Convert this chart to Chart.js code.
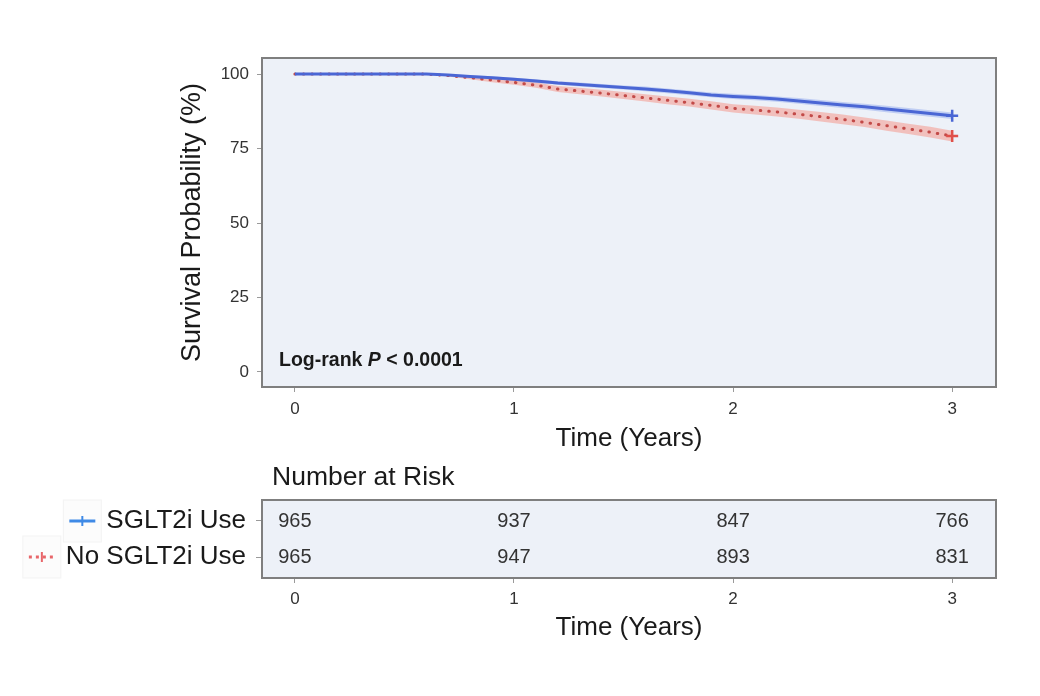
<!DOCTYPE html>
<html>
<head>
<meta charset="utf-8">
<script src="https://cdn.jsdelivr.net/npm/chart.js@4.4.1/dist/chart.umd.min.js"></script>
<style>
  html, body { margin: 0; padding: 0; background: #fff; }
  #wrap { position: relative; width: 1040px; height: 696px; }
  #kmChart { position: absolute; left: 0; top: 0; }
  #riskChart { position: absolute; left: 0; top: 460px; }
</style>
</head>
<body>
<div id="wrap">
  <canvas id="kmChart" width="1040" height="460"></canvas>
  <canvas id="riskChart" width="1040" height="236"></canvas>
</div>
<script>
// Tider (år) og overlevelse
const times = [0, 0.1, 0.2, 0.3, 0.4, 0.5, 0.6, 0.7, 0.8, 0.9, 1.0,
  1.1, 1.2, 1.3, 1.4, 1.5, 1.6, 1.7, 1.8, 1.9, 2.0,
  2.1, 2.2, 2.3, 2.4, 2.5, 2.6, 2.7, 2.8, 2.9, 3.0];

const sgltSurv = [100, 100, 100, 100, 100, 100, 100, 99.7, 99.2, 98.8, 98.3,
  97.7, 97.0, 96.5, 96.0, 95.5, 95.0, 94.4, 93.7, 93.0, 92.5,
  92.1, 91.6, 91.0, 90.3, 89.6, 89.0, 88.3, 87.5, 86.8, 86.0];
const sgltLo = [100, 100, 100, 100, 100, 100, 100, 99.4, 98.8, 98.3, 97.8,
  97.1, 96.4, 95.8, 95.3, 94.8, 94.2, 93.6, 92.9, 92.2, 91.6,
  91.2, 90.7, 90.0, 89.3, 88.6, 88.0, 87.2, 86.4, 85.7, 84.9];
const sgltHi = [100, 100, 100, 100, 100, 100, 100, 100, 99.6, 99.3, 98.8,
  98.3, 97.6, 97.2, 96.7, 96.2, 95.8, 95.2, 94.5, 93.8, 93.4,
  93.0, 92.5, 92.0, 91.3, 90.6, 90.0, 89.4, 88.6, 87.9, 87.1];

const noSurv = [100, 100, 100, 100, 100, 100, 100, 99.5, 98.8, 98.0, 97.2,
  96.3, 95.0, 94.3, 93.6, 92.8, 92.0, 91.2, 90.4, 89.5, 88.5,
  87.9, 87.3, 86.5, 85.7, 84.8, 83.8, 82.7, 81.6, 80.5, 79.2];
const noLo = [100, 100, 100, 100, 100, 100, 100, 99.2, 98.3, 97.3, 96.4,
  95.4, 94.0, 93.2, 92.5, 91.6, 90.8, 89.9, 89.1, 88.1, 87.1,
  86.4, 85.8, 85.0, 84.1, 83.2, 82.2, 81.0, 79.9, 78.7, 77.4];
const noHi = [100, 100, 100, 100, 100, 100, 100, 99.8, 99.3, 98.7, 98.0,
  97.2, 96.0, 95.4, 94.7, 94.0, 93.2, 92.5, 91.7, 90.9, 89.9,
  89.4, 88.8, 88.0, 87.3, 86.4, 85.4, 84.4, 83.3, 82.3, 81.0];

const xTicks = [0, 1, 2, 3];
const yTicks = [0, 25, 50, 75, 100];

// Number at risk
const groups = ['SGLT2i Use', 'No SGLT2i Use'];
const riskTimes = [0, 1, 2, 3];
const riskSglt = [965, 937, 847, 766];
const riskNo = [965, 947, 893, 831];

const FONT = "'Liberation Sans', Arial, sans-serif";
const BLUE = '#4a66d4';
const RED = '#c24a48';

function pts(ys) {
  return times.map((t, i) => ({ x: t, y: ys[i] }));
}
function lastOnly(r) {
  return (ctx) => ctx.dataIndex === times.length - 1 ? r : 0;
}

// Baggrund og ramme om plotområdet
const panelBox = {
  id: 'panelBox',
  beforeDraw(chart) {
    const { ctx, chartArea: a } = chart;
    ctx.save();
    ctx.fillStyle = '#edf1f8';
    ctx.fillRect(a.left, a.top, a.right - a.left, a.bottom - a.top);
    ctx.restore();
  },
  afterDraw(chart) {
    const { ctx, chartArea: a } = chart;
    ctx.save();
    ctx.strokeStyle = '#7f7f7f';
    ctx.lineWidth = 2;
    ctx.strokeRect(a.left, a.top, a.right - a.left, a.bottom - a.top);
    ctx.restore();
  }
};

const logRank = {
  id: 'logRank',
  afterDraw(chart) {
    const { ctx, chartArea: a } = chart;
    ctx.save();
    ctx.fillStyle = '#1a1a1a';
    ctx.textBaseline = 'middle';
    let x = a.left + 17;
    const y = a.bottom - 26;
    const parts = [['bold', 'Log-rank '], ['italic bold', 'P'], ['bold', ' < 0.0001']];
    parts.forEach(([w, s]) => {
      ctx.font = w + ' 19.5px ' + FONT;
      ctx.fillText(s, x, y);
      x += ctx.measureText(s).width;
    });
    ctx.restore();
  }
};

function fixedTicks(list) {
  return (scale) => { scale.ticks = list.map(v => ({ value: v })); };
}

new Chart(document.getElementById('kmChart'), {
  type: 'line',
  data: {
    datasets: [
      { data: pts(sgltSurv), borderColor: BLUE, borderWidth: 3, fill: false, tension: 0,
        pointStyle: 'cross', pointRadius: lastOnly(6), pointBorderColor: BLUE, pointBorderWidth: 2.5, order: 0 },
      { data: pts(noSurv), borderColor: RED, borderWidth: 3, borderDash: [0.5, 8], borderCapStyle: 'round',
        fill: false, tension: 0,
        pointStyle: 'cross', pointRadius: lastOnly(6), pointBorderColor: '#e0504a', pointBorderWidth: 2.5, order: 1 },
      { data: pts(sgltHi), borderWidth: 0, pointRadius: 0,
        fill: '+1', backgroundColor: 'rgba(110,140,235,0.35)', order: 5 },
      { data: pts(sgltLo), borderWidth: 0, pointRadius: 0, fill: false, order: 6 },
      { data: pts(noHi), borderWidth: 0, pointRadius: 0,
        fill: '+1', backgroundColor: 'rgba(244,160,150,0.6)', order: 7 },
      { data: pts(noLo), borderWidth: 0, pointRadius: 0, fill: false, order: 8 }
    ]
  },
  options: {
    responsive: false,
    animation: false,
    layout: { padding: { left: 166, top: 58, right: 44, bottom: 0 } },
    plugins: { legend: { display: false }, tooltip: { enabled: false } },
    scales: {
      x: {
        type: 'linear', min: -0.15, max: 3.2,
        afterBuildTicks: fixedTicks(xTicks),
        afterFit(s) { s.height = 73; },
        grid: { drawOnChartArea: false, drawTicks: true, tickLength: 5, color: '#9a9a9a' },
        border: { display: false },
        ticks: { padding: 7, color: '#333', font: { family: FONT, size: 17 } },
        title: { display: true, text: 'Time (Years)', color: '#1a1a1a',
          font: { family: FONT, size: 26 }, padding: { top: 0, bottom: 6 } }
      },
      y: {
        type: 'linear', min: -5.05, max: 105.4,
        afterBuildTicks: fixedTicks(yTicks),
        afterFit(s) { s.width = 96; },
        grid: { drawOnChartArea: false, drawTicks: true, tickLength: 5, color: '#9a9a9a' },
        border: { display: false },
        ticks: { padding: 8, color: '#333', font: { family: FONT, size: 17 } },
        title: { display: true, text: 'Survival Probability (%)', color: '#1a1a1a',
          font: { family: FONT, size: 27 }, padding: { top: 10, bottom: 0 } }
      }
    }
  },
  plugins: [panelBox, logRank]
});

// Tal i risikotabellen + legende-markører
const riskText = {
  id: 'riskText',
  afterDraw(chart) {
    const { ctx, scales: { x, y }, chartArea: a } = chart;
    ctx.save();
    ctx.fillStyle = '#333';
    ctx.font = '20px ' + FONT;
    ctx.textAlign = 'center';
    ctx.textBaseline = 'middle';
    [riskSglt, riskNo].forEach((row, r) => {
      row.forEach((n, i) => {
        ctx.fillText(String(n), x.getPixelForValue(riskTimes[i]), y.getPixelForValue(r));
      });
    });

    ctx.textAlign = 'left';
    ctx.font = '26.5px ' + FONT;
    ctx.fillStyle = '#1a1a1a';
    ctx.fillText('Number at Risk', a.left + 10, 18);

    // legende-nøgler
    ctx.font = '26px ' + FONT;
    const labelRight = a.left - 16;
    groups.forEach((g, r) => {
      const w = ctx.measureText(g).width;
      const cx = labelRight - w - 24;
      const cy = y.getPixelForValue(r);
      ctx.fillStyle = '#fcfcfc';
      ctx.strokeStyle = '#f3f3f3';
      ctx.lineWidth = 1;
      ctx.fillRect(cx - 19, cy - 21, 38, 42);
      ctx.strokeRect(cx - 19, cy - 21, 38, 42);
      if (r === 0) {
        ctx.strokeStyle = '#3f8ae6';
        ctx.lineWidth = 3;
        ctx.setLineDash([]);
      } else {
        ctx.strokeStyle = '#e8666a';
        ctx.lineWidth = 3;
        ctx.setLineDash([3, 4]);
      }
      ctx.beginPath();
      ctx.moveTo(cx - 13, cy);
      ctx.lineTo(cx + 13, cy);
      ctx.stroke();
      ctx.setLineDash([]);
      ctx.lineWidth = 2;
      ctx.beginPath();
      ctx.moveTo(cx, cy - 5);
      ctx.lineTo(cx, cy + 5);
      ctx.stroke();
    });
    ctx.restore();
  }
};

new Chart(document.getElementById('riskChart'), {
  type: 'line',
  data: { datasets: [{ data: [], pointRadius: 0 }] },
  options: {
    responsive: false,
    animation: false,
    layout: { padding: { left: 0, top: 40, right: 44, bottom: 0 } },
    plugins: { legend: { display: false }, tooltip: { enabled: false } },
    scales: {
      x: {
        type: 'linear', min: -0.15, max: 3.2,
        afterBuildTicks: fixedTicks(riskTimes),
        afterFit(s) { s.height = 118; },
        grid: { drawOnChartArea: false, drawTicks: true, tickLength: 5, color: '#9a9a9a' },
        border: { display: false },
        ticks: { padding: 6, color: '#333', font: { family: FONT, size: 17 } },
        title: { display: true, text: 'Time (Years)', color: '#1a1a1a',
          font: { family: FONT, size: 26 }, padding: { top: 0, bottom: 53 } }
      },
      y: {
        type: 'linear', reverse: true, min: -0.583, max: 1.583,
        afterBuildTicks: fixedTicks([0, 1]),
        afterFit(s) { s.width = 262; },
        grid: { drawOnChartArea: false, drawTicks: true, tickLength: 6, color: '#9a9a9a' },
        border: { display: false },
        ticks: { padding: 10, color: '#1a1a1a', font: { family: FONT, size: 26 },
          callback: (v) => groups[v] }
      }
    }
  },
  plugins: [panelBox, riskText]
});
</script>
</body>
</html>
